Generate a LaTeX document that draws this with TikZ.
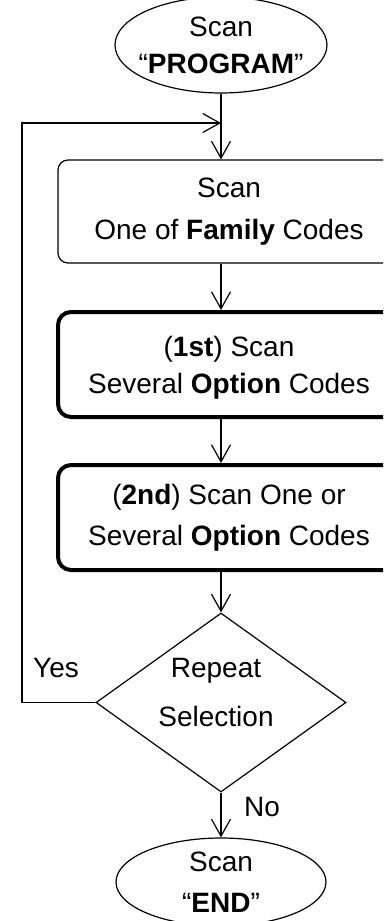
\documentclass[tikz,border=0pt]{standalone}
\usepackage{fontspec}
\setmainfont{Liberation Sans}
\usetikzlibrary{arrows.meta,shapes.geometric}
\begin{document}
\begin{tikzpicture}[x=1pt,y=-1pt,
  base/.style={draw=black, line width=1.2pt, align=center, inner sep=0pt},
  term/.style={base, ellipse, minimum width=212pt, minimum height=96pt},
  procthin/.style={base, rectangle, rounded corners=10pt, minimum width=342pt, minimum height=103pt},
  procthick/.style={base, rectangle, rounded corners=13pt, line width=4pt, minimum width=342pt, minimum height=105pt},
  decision/.style={base, diamond, aspect=1.4, inner sep=-8pt, minimum width=250pt, minimum height=179pt},
  flow/.style={line width=1.2pt, -{Straight Barb[length=17pt,width=19pt]}},
  lbl/.style={inner sep=0pt, font=\fontsize{28}{34}\selectfont}
]
\useasboundingbox (0,0) rectangle (383,921);
\fill[white] (0,0) rectangle (383,921);
\clip (0,0) rectangle (383,921);

\node[term, font=\fontsize{28}{37}\selectfont] (start) at (221,45)
  {\makebox[0pt]{Scan}\\\makebox[0pt]{“\textbf{PROGRAM}”}};
\node[procthin, font=\fontsize{28}{42}\selectfont] (box1) at (229,211.5)
  {Scan\\One of \textbf{Family} Codes};
\node[procthick, font=\fontsize{28}{37}\selectfont] (box2) at (229,364.5)
  {\rule{0pt}{26pt}(\textbf{1st}) Scan\\Several \textbf{Option} Codes};
\node[procthick, font=\fontsize{28}{41}\selectfont] (box3) at (229,517.5)
  {(\textbf{2nd}) Scan One or\\Several \textbf{Option} Codes};
\node[decision, font=\fontsize{28}{49}\selectfont] (dec) at (221,702.5)
  {Repeat\kern10pt\\Selection\kern10pt\rule[-20pt]{0pt}{20pt}};
\node[term, minimum width=210pt, minimum height=88pt, font=\fontsize{28}{41}\selectfont] (end) at (221,882)
  {\makebox[0pt]{Scan}\\\makebox[0pt]{“\textbf{END}”}};

\coordinate (join) at (221,123);
\coordinate (corner) at (22,123);

\draw[flow] (start) -- (start |- box1.north);
\draw[flow] (start |- box1.south) -- (start |- box2.north);
\draw[flow] (start |- box2.south) -- (start |- box3.north);
\draw[flow] (start |- box3.south) -- (dec);
\draw[flow] (dec) -- (end);
\draw[flow] (dec.west) -| (corner) -- (join);

\node[lbl] (yes) at (56,668) {Yes};
\node[lbl] (no) at (262,807) {No};
\end{tikzpicture}
\end{document}
